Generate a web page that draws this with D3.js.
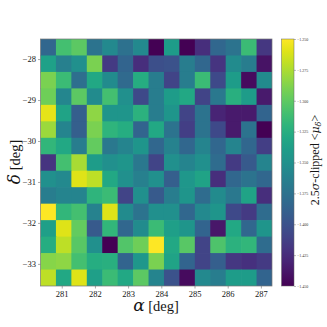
<!DOCTYPE html>
<html lang="en">
<head>
<meta charset="UTF-8">
<title>Proper motion map</title>
<script src="https://cdnjs.cloudflare.com/ajax/libs/d3/7.8.5/d3.min.js"></script>
<style>
    html, body { margin: 0; background: #fff; }
    text { font-family: "Liberation Serif", serif; fill: #111; opacity: 0.98; }
    .greek { font-family: "DejaVu Serif", serif; font-style: italic; }
</style>
</head>
<body>
<div id="chart"></div>
<script>
// bin edges of the map
var alphaEdges = [280.36, 280.825, 281.29, 281.755, 282.22, 282.685, 283.15, 283.615, 284.08, 284.545, 285.01, 285.475, 285.94, 286.405, 286.87, 287.335];
var deltaEdges = [-27.51, -27.912, -28.314, -28.716, -29.118, -29.52, -29.922, -30.324, -30.726, -31.128, -31.53, -31.932, -32.334, -32.736, -33.138, -33.54];

// clipped mean per bin, top row first
var row0 = [-1.384, -1.310, -1.300, -1.374, -1.356, -1.376, -1.356, -1.450, -1.340, -1.450, -1.424, -1.384, -1.374, -1.314, -1.418];
var row1 = [-1.336, -1.364, -1.350, -1.290, -1.416, -1.386, -1.424, -1.402, -1.400, -1.366, -1.384, -1.420, -1.354, -1.366, -1.440];
var row2 = [-1.290, -1.314, -1.378, -1.330, -1.354, -1.382, -1.326, -1.366, -1.410, -1.366, -1.314, -1.406, -1.340, -1.444, -1.354];
var row3 = [-1.294, -1.358, -1.300, -1.354, -1.310, -1.350, -1.406, -1.366, -1.340, -1.330, -1.410, -1.370, -1.324, -1.340, -1.436];
var row4 = [-1.258, -1.334, -1.390, -1.284, -1.346, -1.346, -1.322, -1.366, -1.346, -1.410, -1.374, -1.430, -1.436, -1.436, -1.386];
var row5 = [-1.280, -1.360, -1.390, -1.290, -1.320, -1.326, -1.386, -1.330, -1.374, -1.414, -1.374, -1.406, -1.436, -1.374, -1.450];
var row6 = [-1.318, -1.330, -1.366, -1.298, -1.370, -1.360, -1.346, -1.384, -1.362, -1.384, -1.360, -1.384, -1.360, -1.384, -1.414];
var row7 = [-1.420, -1.310, -1.276, -1.340, -1.350, -1.346, -1.370, -1.410, -1.350, -1.360, -1.350, -1.380, -1.416, -1.394, -1.360];
var row8 = [-1.350, -1.356, -1.260, -1.270, -1.330, -1.350, -1.364, -1.350, -1.390, -1.344, -1.334, -1.424, -1.384, -1.374, -1.384];
var row9 = [-1.366, -1.360, -1.360, -1.320, -1.314, -1.410, -1.350, -1.394, -1.366, -1.346, -1.380, -1.354, -1.370, -1.334, -1.424];
var row10 = [-1.250, -1.318, -1.310, -1.362, -1.260, -1.354, -1.374, -1.350, -1.350, -1.384, -1.356, -1.346, -1.406, -1.416, -1.380];
var row11 = [-1.338, -1.260, -1.298, -1.394, -1.318, -1.384, -1.354, -1.314, -1.338, -1.346, -1.386, -1.438, -1.330, -1.384, -1.346];
var row12 = [-1.326, -1.270, -1.302, -1.350, -1.450, -1.304, -1.294, -1.250, -1.330, -1.302, -1.410, -1.306, -1.322, -1.318, -1.380];
var row13 = [-1.286, -1.284, -1.310, -1.326, -1.324, -1.386, -1.344, -1.290, -1.334, -1.386, -1.410, -1.390, -1.418, -1.422, -1.416];
var row14 = [-1.270, -1.330, -1.260, -1.338, -1.314, -1.330, -1.300, -1.360, -1.400, -1.444, -1.356, -1.366, -1.340, -1.340, -1.386];
var rows = [row0, row1, row2, row3, row4, row5, row6, row7, row8, row9, row10, row11, row12, row13, row14];

var alphaTicks = [281, 282, 283, 284, 285, 286, 287];
var deltaTicks = [-28, -29, -30, -31, -32, -33];
var barTicks = [-1.25, -1.275, -1.3, -1.325, -1.35, -1.375, -1.4, -1.425, -1.45];

var left = 40.5, right = 272, top_ = 39, bottom = 286;
var barLeft = 281.5, barRight = 294;

var svg = d3.select('#chart').append('svg')
    .attr('width', 327)
    .attr('height', 327)
    .style('display', 'block');

var x = d3.scaleLinear().domain([alphaEdges[0], alphaEdges[15]]).range([left, right]);
var y = d3.scaleLinear().domain([deltaEdges[0], deltaEdges[15]]).range([top_, bottom]);
var value = d3.scaleLinear().domain([-1.45, -1.25]).range([bottom, top_]);
var color = d3.scaleSequential(d3.interpolateViridis).domain([-1.45, -1.25]);

// cells, each one runs a little under the next so no white seams show
var cells = svg.append('g');
rows.forEach(function (row, r) {
    row.forEach(function (v, c) {
        var w = x(alphaEdges[c + 1]) - x(alphaEdges[c]);
        var h = y(deltaEdges[r + 1]) - y(deltaEdges[r]);
        cells.append('rect')
            .attr('x', x(alphaEdges[c]))
            .attr('y', y(deltaEdges[r]))
            .attr('width', c < 14 ? w + 0.7 : w)
            .attr('height', r < 14 ? h + 0.7 : h)
            .attr('fill', color(v));
    });
});

// axes
var xAxis = d3.axisBottom(x).tickValues(alphaTicks).tickFormat(d3.format('d')).tickSize(2.5).tickPadding(2);
var yAxis = d3.axisLeft(y).tickValues(deltaTicks).tickFormat(function (d) { return '\u2212' + Math.abs(d); }).tickSize(2.5).tickPadding(2);

var gx = svg.append('g').attr('transform', 'translate(0,' + bottom + ')').call(xAxis);
var gy = svg.append('g').attr('transform', 'translate(' + left + ',0)').call(yAxis);
[gx, gy].forEach(function (g) {
    g.selectAll('text').style('font-size', '8.5px').style('fill', '#111');
    g.selectAll('line').attr('stroke', '#555').attr('stroke-width', 0.5);
    g.select('.domain').remove();
});

svg.append('rect')
    .attr('x', left).attr('y', top_)
    .attr('width', right - left).attr('height', bottom - top_)
    .attr('fill', 'none').attr('stroke', '#777').attr('stroke-width', 0.7);

// colour bar
var gradient = svg.append('defs').append('linearGradient')
    .attr('id', 'viridisBar')
    .attr('x1', 0).attr('y1', 1).attr('x2', 0).attr('y2', 0);
gradient.selectAll('stop').data(d3.range(0, 1.01, 0.05)).join('stop')
    .attr('offset', function (d) { return d; })
    .attr('stop-color', function (d) { return d3.interpolateViridis(d); });

svg.append('rect')
    .attr('x', barLeft).attr('y', top_)
    .attr('width', barRight - barLeft).attr('height', bottom - top_)
    .attr('fill', 'url(#viridisBar)')
    .attr('stroke', '#666').attr('stroke-width', 0.5);

var barAxis = d3.axisRight(value).tickValues(barTicks).tickFormat(function (d) { return '\u2212' + Math.abs(d).toFixed(3); }).tickSize(2).tickPadding(1);
var gb = svg.append('g').attr('transform', 'translate(' + barRight + ',0)').call(barAxis);
gb.selectAll('text').style('font-size', '4px').style('fill', '#333');
gb.selectAll('line').attr('stroke', '#555').attr('stroke-width', 0.4);
gb.select('.domain').remove();

// labels
svg.append('text')
    .attr('x', 156).attr('y', 311)
    .attr('text-anchor', 'middle')
    .style('font-size', '14.5px')
    .html('<tspan class="greek" font-size="17">\u03b1</tspan> [deg]');

svg.append('text')
    .attr('transform', 'translate(20,162) rotate(-90)')
    .attr('text-anchor', 'middle')
    .style('font-size', '14.5px')
    .html('<tspan class="greek" font-size="17">\u03b4</tspan> [deg]');

svg.append('text')
    .attr('transform', 'translate(318.5,160) rotate(-90)')
    .attr('text-anchor', 'middle')
    .style('font-size', '12px')
    .html('2.5<tspan class="greek" font-size="11">\u03c3</tspan>-clipped &lt;<tspan class="greek" font-size="11">\u03bc</tspan><tspan class="greek" font-size="8" dy="2">\u03b4</tspan><tspan dy="-2">&gt;</tspan>');
</script>
</body>
</html>
